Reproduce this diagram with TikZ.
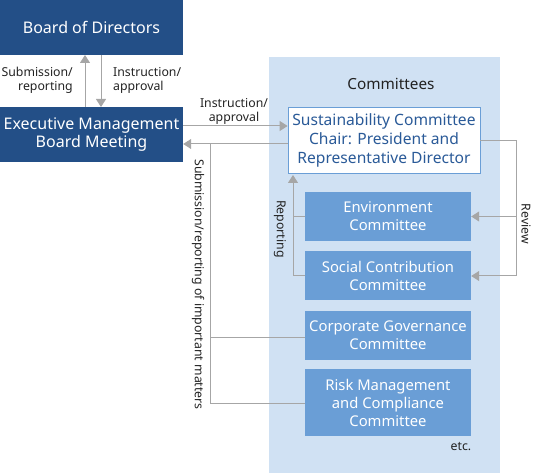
\documentclass[tikz,border=0pt]{standalone}
\usepackage{fontspec}
\setmainfont{Noto Sans}
\usetikzlibrary{arrows.meta}
\definecolor{darkblue}{HTML}{234F87}
\definecolor{combox}{HTML}{6A9ED6}
\definecolor{bgblue}{HTML}{D0E1F3}
\definecolor{linegrey}{HTML}{A6A6A6}
\definecolor{textblue}{HTML}{2A5A98}
\definecolor{labeltext}{HTML}{222222}
\tikzset{
  topbox/.style={draw=none, fill=darkblue, text=white, align=center, inner sep=0pt, font=\fontsize{16}{18}\selectfont},
  combox/.style={draw=none, fill=combox, text=white, align=center, inner sep=0pt, font=\fontsize{14.8}{18}\selectfont},
  susbox/.style={draw=combox, line width=0.8pt, fill=white, text=textblue, align=center, inner sep=0pt, font=\fontsize{15.6}{19}\selectfont},
  conn/.style={draw=linegrey, line width=1pt},
  arr/.style={conn, -{Triangle[length=8pt,width=10pt]}, color=linegrey},
  lbl/.style={text=labeltext, font=\fontsize{12.3}{14.5}\selectfont, inner sep=0pt},
}
\begin{document}
\begin{tikzpicture}[x=1pt,y=-1pt]
\useasboundingbox (0,0) rectangle (533,473);
\fill[bgblue] (269,57) rectangle (500,473);
\node[lbl, font=\fontsize{15.3}{16}\selectfont] (comt) at (391,84) {Committees};

\node[topbox, minimum width=183pt, minimum height=55pt] (bod) at (91.5,27.5) {Board of Directors};
\node[topbox, minimum width=183pt, minimum height=55pt] (emb) at (91.5,134.5) {Executive Management\\Board Meeting};

\coordinate (bodA) at (85,55);
\coordinate (embA) at (85,107);
\coordinate (bodB) at (101,55);
\coordinate (embB) at (101,107);
\draw[arr] (embA) -- (bodA);
\draw[arr] (bodB) -- (embB);
\node[lbl, align=right, anchor=east] (subrep) at (73,80.5) {Submission/\\reporting};
\node[lbl, align=left, anchor=west] (insapp) at (113,80.5) {Instruction/\\approval};

\node[susbox, minimum width=192pt, minimum height=66pt] (sus) at (384,140) {Sustainability Committee\\Chair: President and\\Representative Director};

\node[combox, minimum width=166pt, minimum height=49pt] (env) at (388,216.5) {Environment\\Committee};
\node[combox, minimum width=166pt, minimum height=49pt] (soc) at (388,275.5) {Social Contribution\\Committee};
\node[combox, minimum width=166pt, minimum height=49pt] (cgc) at (388,335.5) {Corporate Governance\\Committee};
\node[combox, minimum width=166pt, minimum height=67pt] (rmc) at (388,402.5) {Risk Management\\and Compliance\\Committee};
\node[lbl] (etc) at (461,447) {etc.};

% Instruction/approval to sustainability
\draw[arr] (emb.east |- 0,126) -- (sus.west |- 0,126);
\node[lbl, align=center] (insapp2) at (234,111.5) {Instruction/\\approval};
% return
\draw[arr] (sus.west |- 0,144) -- (emb.east |- 0,144);
\coordinate (vtop) at (210,144);
\coordinate (vbot) at (210,403);
\draw[conn] (vtop) -- (vbot) -- (rmc.west |- vbot);
\draw[conn] (210,337) -- (cgc.west |- 0,337);
\node[lbl, rotate=-90] (subimp) at (198,284.5) {Submission/reporting of important matters};

% Reporting
\coordinate (rep) at (293,276);
\draw[conn] (env.west) -- (293,216.5);
\draw[conn] (soc.west |- rep) -- (rep);
\draw[arr] (rep) -- (293,175);
\node[lbl, rotate=-90] (replbl) at (280,229) {Reporting};

% Review
\coordinate (rv1) at (516,141);
\coordinate (rv2) at (516,276);
\draw[conn] (sus.east |- rv1) -- (rv1) -- (rv2);
\draw[arr] (516,216.5) -- (env.east);
\draw[arr] (rv2) -- (soc.east |- rv2);
\node[lbl, rotate=-90] (revlbl) at (526,224) {Review};
\end{tikzpicture}
\end{document}
